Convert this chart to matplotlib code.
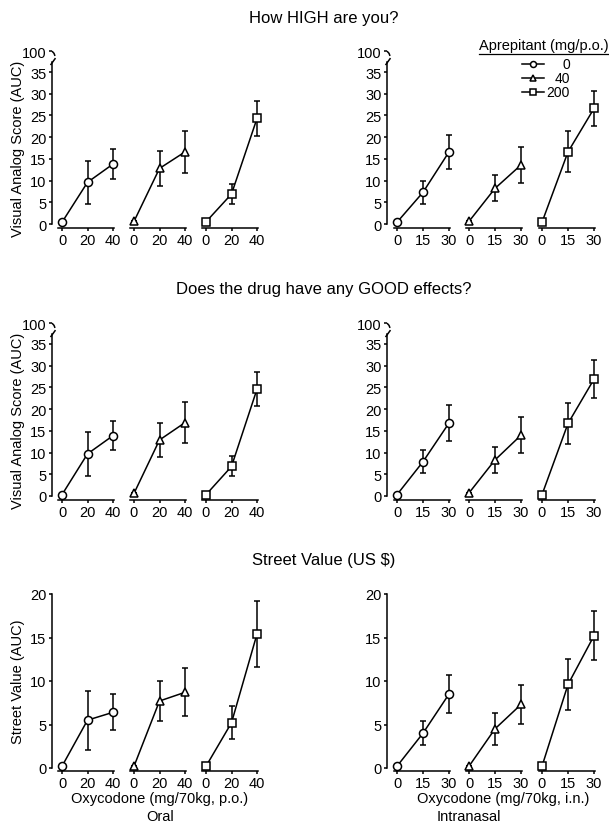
import matplotlib
matplotlib.use('Agg')
import matplotlib.pyplot as plt
from matplotlib.lines import Line2D

plt.rcParams['font.family'] = ['Liberation Sans', 'DejaVu Sans']

W, H = 609, 829

# ---------------- data ----------------
aprepitant = ['0', '40', '200']
markers = ['o', '^', 's']
oral_doses = [0, 20, 40]
in_doses = [0, 15, 30]

titles = ['How HIGH are you?', 'Does the drug have any GOOD effects?', 'Street Value (US $)']
ylabels = ['Visual Analog Score (AUC)', 'Visual Analog Score (AUC)', 'Street Value (AUC)']
vas_ticks = [0, 5, 10, 15, 20, 25, 30, 35]
street_ticks = [0, 5, 10, 15, 20]

high_oral_mean = [[0.4, 9.6, 13.8], [0.6, 12.8, 16.6], [0.5, 6.9, 24.3]]
high_oral_sem = [[0.0, 5.0, 3.5], [0.0, 4.1, 4.9], [0.0, 2.4, 4.1]]
high_in_mean = [[0.4, 7.3, 16.6], [0.6, 8.2, 13.6], [0.4, 16.6, 26.6]]
high_in_sem = [[0.0, 2.7, 4.0], [0.0, 3.0, 4.1], [0.0, 4.7, 4.1]]

good_oral_mean = [[0.3, 9.7, 13.9], [0.6, 12.9, 16.9], [0.3, 6.8, 24.6]]
good_oral_sem = [[0.0, 5.0, 3.4], [0.0, 4.0, 4.8], [0.0, 2.3, 3.9]]
good_in_mean = [[0.3, 7.9, 16.8], [0.7, 8.3, 14.0], [0.3, 16.7, 26.9]]
good_in_sem = [[0.0, 2.7, 4.1], [0.0, 2.9, 4.2], [0.0, 4.7, 4.4]]

street_oral_mean = [[0.2, 5.5, 6.4], [0.2, 7.7, 8.7], [0.2, 5.2, 15.4]]
street_oral_sem = [[0.0, 3.4, 2.05], [0.0, 2.3, 2.75], [0.0, 1.9, 3.8]]
street_in_mean = [[0.2, 4.0, 8.5], [0.2, 4.5, 7.3], [0.2, 9.6, 15.2]]
street_in_sem = [[0.0, 1.35, 2.2], [0.0, 1.8, 2.25], [0.0, 2.9, 2.8]]

means = [[high_oral_mean, high_in_mean], [good_oral_mean, good_in_mean], [street_oral_mean, street_in_mean]]
sems = [[high_oral_sem, high_in_sem], [good_oral_sem, good_in_sem], [street_oral_sem, street_in_sem]]

# ---------------- layout (pixels) ----------------
row_y0 = [225, 497, 769]
row_ppu = [152 / 35, 152 / 35, 174 / 20]
row_ylim = [(-0.95, 41.0), (-0.95, 41.0), (-0.33, 21.0)]

col_spine = [52, 387]
col_groups = [[62, 134, 206], [397, 469, 542]]
col_ppu = [51 / 40, 52 / 30]
col_doses = [oral_doses, in_doses]
col_xhi = [43.5, 32.5]
col_xlo_other = [-4.0, -3.0]
col_bounds = [(-3.0, 41.0), (-2.0, 30.8)]

BREAK_TICK = 39.8
LW = 1.1
FS = 10.5

fig = plt.figure(figsize=(W / 100, H / 100), dpi=100)


def px_axes(l, r, t, b):
    return fig.add_axes([l / W, 1 - b / H, (r - l) / W, (b - t) / H])


for r in range(3):
    y0, ppy = row_y0[r], row_ppu[r]
    ylo, yhi = row_ylim[r]
    top = y0 - yhi * ppy
    bot = y0 - ylo * ppy
    for c in range(2):
        ppx = col_ppu[c]
        doses = col_doses[c]
        for g in range(3):
            x0 = col_groups[c][g]
            xlo = -(x0 - col_spine[c]) / ppx if g == 0 else col_xlo_other[c]
            xhi = col_xhi[c]
            ax = px_axes(x0 + xlo * ppx, x0 + xhi * ppx, top, bot)
            ax.set_xlim(xlo, xhi)
            ax.set_ylim(ylo, yhi)
            ax.patch.set_alpha(0)
            for s in ['top', 'right']:
                ax.spines[s].set_visible(False)
            ax.spines['bottom'].set_bounds(*col_bounds[c])
            ax.spines['bottom'].set_linewidth(LW)
            ax.set_xticks(doses)
            ax.set_xticklabels([str(d) for d in doses], fontsize=FS)
            ax.tick_params(axis='x', direction='out', length=2.5, width=LW, pad=1.3)
            if g == 0:
                ax.spines['left'].set_linewidth(LW)
                if r < 2:
                    ax.spines['left'].set_bounds(0, 37.3)
                    ax.set_yticks(vas_ticks + [BREAK_TICK])
                    ax.set_yticklabels([str(t) for t in vas_ticks] + ['100'], fontsize=FS)
                    # axis break marks
                    dx = 1 / ppx
                    ax.plot([xlo, xlo + 2 * dx, xlo + 3 * dx],
                            [BREAK_TICK, BREAK_TICK - 0.5, BREAK_TICK - 1.1],
                            color='k', lw=LW, clip_on=False, solid_capstyle='butt')
                    ax.plot([xlo - 1.5 * dx, xlo + 3.5 * dx], [36.6, 38.2],
                            color='k', lw=LW, clip_on=False, solid_capstyle='butt')
                else:
                    ax.spines['left'].set_bounds(0, 20)
                    ax.set_yticks(street_ticks)
                    ax.set_yticklabels([str(t) for t in street_ticks], fontsize=FS)
                ax.tick_params(axis='y', direction='out', length=2.5, width=LW, pad=1.5)
            else:
                ax.spines['left'].set_visible(False)
                ax.tick_params(axis='y', left=False, labelleft=False)

            m = means[r][c][g]
            e = sems[r][c][g]
            ax.errorbar(doses, m, yerr=e, fmt='none', ecolor='k', elinewidth=LW,
                        capsize=2.2, capthick=LW, clip_on=False, zorder=2)
            ms = 5.2 if markers[g] == 's' else 5.8
            ax.plot(doses, m, '-', color='k', lw=LW, marker=markers[g], ms=ms,
                    mfc='white', mec='k', mew=LW, clip_on=False, zorder=3)

# ---------------- texts ----------------
title_y = [18, 290, 561]
for r in range(3):
    fig.text(324 / W, 1 - title_y[r] / H, titles[r], ha='center', va='center', fontsize=12)
    yc = row_y0[r] - (35 if r < 2 else 20) * row_ppu[r] / 2
    fig.text(18 / W, 1 - yc / H, ylabels[r], ha='center', va='center', rotation=90, fontsize=FS)

fig.text(160 / W, 1 - 799 / H, 'Oxycodone (mg/70kg, p.o.)', ha='center', va='center', fontsize=FS)
fig.text(160 / W, 1 - 817 / H, 'Oral', ha='center', va='center', fontsize=FS)
fig.text(503 / W, 1 - 799 / H, 'Oxycodone (mg/70kg, i.n.)', ha='center', va='center', fontsize=FS)
fig.text(469 / W, 1 - 817 / H, 'Intranasal', ha='center', va='center', fontsize=FS)

# ---------------- legend ----------------
fig.text(544 / W, 1 - 46 / H, 'Aprepitant (mg/p.o.)', ha='center', va='center', fontsize=FS)
fig.add_artist(Line2D([479 / W, 608 / W], [1 - 55 / H, 1 - 55 / H], transform=fig.transFigure,
                      color='k', lw=0.9))
leg_y = [65, 79, 93]
for g in range(3):
    yy = 1 - leg_y[g] / H
    fig.add_artist(Line2D([522 / W, 544 / W], [yy, yy], transform=fig.transFigure, color='k', lw=LW))
    fig.add_artist(Line2D([533 / W], [yy], transform=fig.transFigure, color='k', lw=0,
                          marker=markers[g], ms=4.3, mfc='white', mec='k', mew=LW))
    fig.text(570 / W, yy, aprepitant[g], ha='right', va='center', fontsize=10)

fig.savefig('out.png', dpi=100)
